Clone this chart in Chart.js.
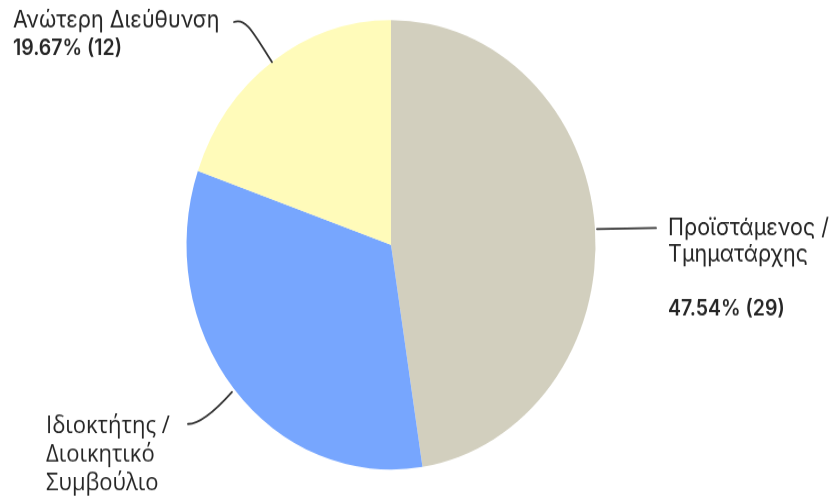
<!DOCTYPE html>
<html>
<head>
<meta charset="utf-8">
<script src="https://cdn.jsdelivr.net/npm/chart.js@4.4.1/dist/chart.umd.min.js"></script>
<style>
  html, body { margin: 0; padding: 0; background: #ffffff; overflow: hidden; }
  #wrap { width: 836px; height: 499px; position: relative; }
  #c { position: absolute; left: 0; top: 0; transform-origin: 0 0; transform: scaleY(1.0991); }
</style>
</head>
<body>
<div id="wrap"><canvas id="c" width="836" height="454"></canvas></div>
<script>
// ---- data ----
const categories = ["Προϊστάμενος / Τμηματάρχης", "Ιδιοκτήτης / Διοικητικό Συμβούλιο", "Ανώτερη Διεύθυνση"];
const labelLines = [["Προϊστάμενος /", "Τμηματάρχης"], ["Ιδιοκτήτης /", "Διοικητικό", "Συμβούλιο"], ["Ανώτερη Διεύθυνση"]];
const counts = [29, 20, 12];
const showPercent = [true, false, true];
const colors = ["#d2cfbe", "#77a6fe", "#fffbba"];

const total = counts.reduce((a, b) => a + b, 0);

const SY = 1 / 1.0991; // map reference y to canvas y

const labelPlugin = {
  id: 'sliceLabels',
  afterDraw(chart) {
    const ctx = chart.ctx;
    ctx.save();
    ctx.strokeStyle = '#333333';
    ctx.lineWidth = 1.8;
    ctx.lineCap = 'round';
    ctx.fillStyle = '#262626';
    ctx.textBaseline = 'alphabetic';
    ctx.textAlign = 'left';

    const pct = i => (counts[i] / total * 100).toFixed(2) + '% (' + counts[i] + ')';

    // slice 0 (right)
    ctx.beginPath();
    ctx.moveTo(597, 229 * SY);
    ctx.lineTo(656, 228 * SY);
    ctx.stroke();
    ctx.font = '400 21.5px Inter, "Noto Sans", sans-serif';
    ctx.fillText(labelLines[0][0], 668, 235 * SY);
    ctx.fillText(labelLines[0][1], 668, 262 * SY);
    if (showPercent[0]) {
      ctx.font = '600 19.5px Inter, "Noto Sans", sans-serif';
      ctx.fillText(pct(0), 668, 315 * SY);
    }

    // slice 1 (bottom-left)
    ctx.beginPath();
    ctx.moveTo(188, 424 * SY);
    ctx.bezierCurveTo(200, 424 * SY, 216, 410 * SY, 232, 392 * SY);
    ctx.stroke();
    ctx.font = '400 22px "Open Sans", "Noto Sans", sans-serif';
    ctx.fillText(labelLines[1][0], 46, 433 * SY);
    ctx.fillText(labelLines[1][1], 46, 462 * SY);
    ctx.fillText(labelLines[1][2], 46, 490 * SY);

    // slice 2 (top-left)
    ctx.beginPath();
    ctx.moveTo(234, 22 * SY);
    ctx.bezierCurveTo(246, 17 * SY, 254, 34 * SY, 272, 62 * SY);
    ctx.stroke();
    ctx.font = '400 21.5px Inter, "Noto Sans", sans-serif';
    ctx.fillText(labelLines[2][0], 13, 28 * SY);
    if (showPercent[2]) {
      ctx.font = '600 19.5px Inter, "Noto Sans", sans-serif';
      ctx.fillText(pct(2), 13, 55 * SY);
    }
    ctx.restore();
  }
};

new Chart(document.getElementById('c'), {
  type: 'pie',
  data: {
    labels: categories,
    datasets: [{
      data: counts,
      backgroundColor: colors,
      borderWidth: 0,
      hoverOffset: 0
    }]
  },
  options: {
    responsive: false,
    maintainAspectRatio: false,
    animation: false,
    devicePixelRatio: 1,
    layout: { padding: { left: 186.5, right: 240.5, top: 18.2, bottom: 26.7 } },
    plugins: {
      legend: { display: false },
      tooltip: { enabled: false }
    }
  },
  plugins: [labelPlugin]
});
</script>
</body>
</html>
